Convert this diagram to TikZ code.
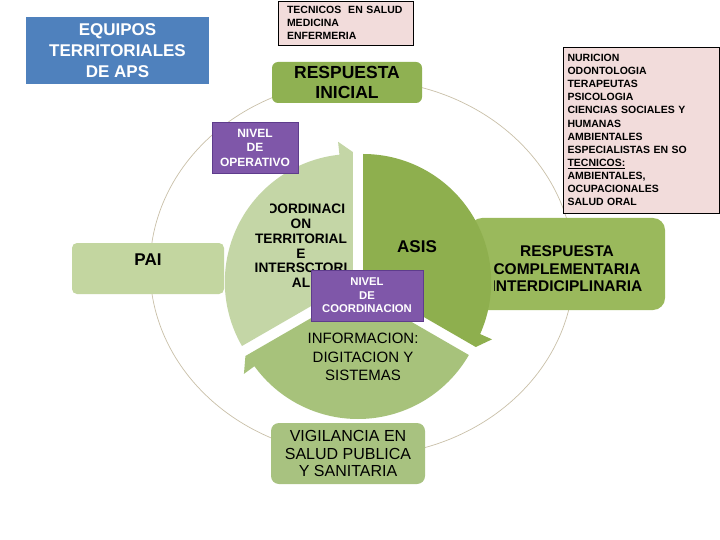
\documentclass[tikz,border=0pt]{standalone}
\usepackage{fontspec}
\setmainfont{Liberation Sans}
\definecolor{cblue}{HTML}{4F81BD}
\definecolor{cpink}{HTML}{F2DCDB}
\definecolor{cgreenA}{HTML}{8FB152}
\definecolor{cgreenB}{HTML}{9AB95C}
\definecolor{cgreenL}{HTML}{C3D6A0}
\definecolor{cgreenV}{HTML}{A8C280}
\definecolor{wlight}{HTML}{C4D6A6}
\definecolor{wdark}{HTML}{8EAF4E}
\definecolor{wmid}{HTML}{A7C27B}
\definecolor{ringc}{HTML}{C9C0A8}
\definecolor{cpurple}{HTML}{7F57A9}
\definecolor{cpurpleD}{HTML}{5E3C8C}
\begin{document}
\begin{tikzpicture}[x=1pt,y=-1pt,
  every node/.style={inner sep=0pt, outer sep=0pt},
  pinkbox/.style={fill=cpink, draw=black, line width=0.8pt, align=left, font=\fontsize{10.5}{13.1}\selectfont\bfseries},
  purplebox/.style={fill=cpurple, draw=cpurpleD, line width=0.8pt, text=white, align=center},
  greenbox/.style={align=center}]
\useasboundingbox (0,0) rectangle (720,540);
\fill[white] (0,0) rectangle (720,540);

% outer ring
\draw[ringc, line width=0.7pt] (362,268) ellipse [x radius=212pt, y radius=188pt];

% boxes behind the cycle
\node[fill=cgreenB, rounded corners=12pt, minimum width=195pt, minimum height=92pt] (respcomp) at (567.5,264) {};
\begin{scope}
  \clip (494,225) rectangle (670,305);
  \node[font=\fontsize{15.5}{17.5}\selectfont\bfseries, align=center] (respcomptext) at (567,269) {RESPUESTA\\COMPLEMENTARIA\\INTERDICIPLINARIA};
\end{scope}
\node[fill=cgreenL, rounded corners=5pt, minimum width=152pt, minimum height=51pt] (pai) at (148,268.5) {};
\node[font=\fontsize{17}{20}\selectfont\bfseries] (paitext) at (148,260) {PAI};

% segmented cycle
\begin{scope}[shift={(358,285)}, x=1pt, y=1pt]
  \fill[wlight, shift={(150:6pt)}] (0,0) -- (210:128pt) arc[start angle=210, end angle=96, radius=128pt] -- (96:141pt) -- (90:130pt) -- cycle;
  \fill[wdark, shift={(30:6pt)}] (0,0) -- (90:128pt) arc[start angle=90, end angle=-24, radius=128pt] -- (-24:141pt) -- (-30:130pt) -- cycle;
  \fill[wmid, shift={(-90:6pt)}] (0,0) -- (-30:128pt) arc[start angle=-30, end angle=-144, radius=128pt] -- (-144:141pt) -- (-150:130pt) -- cycle;
\end{scope}

% texts in the cycle
\node[font=\fontsize{17}{20}\selectfont\bfseries] (asis) at (417,247) {ASIS};
\begin{scope}
  \clip (270,195) -- (360,195) -- (360,300) -- (240,300) -- (240,217) -- (270,217) -- cycle;
  \node[font=\fontsize{13.7}{14.8}\selectfont\bfseries, align=center] (coord) at (301,246) {COORDINACI\\ON\\TERRITORIAL\\E\\INTERSCTORI\\AL};
\end{scope}
\node[font=\fontsize{15}{18.5}\selectfont, align=center] (info) at (363,357) {INFORMACION:\\DIGITACION Y\\SISTEMAS};

% purple level boxes
\node[purplebox, minimum width=86pt, minimum height=51pt, font=\fontsize{12}{14.5}\selectfont\bfseries] (nivop) at (255,147.5) {NIVEL\\DE\\OPERATIVO};
\node[purplebox, minimum width=112pt, minimum height=51pt, font=\fontsize{11.3}{13.5}\selectfont\bfseries] (nivco) at (367,295.5) {NIVEL\\DE\\COORDINACION};

% other boxes
\node[fill=cblue, minimum width=183pt, minimum height=67pt, text=white, font=\fontsize{17}{21}\selectfont\bfseries, align=center] (equipos) at (117.5,50.5) {EQUIPOS\\TERRITORIALES\\DE APS};
\node[pinkbox, minimum width=135pt, minimum height=44pt, text width=117pt, font=\fontsize{10.5}{13}\selectfont\bfseries] (tecnicos) at (345.5,23) {TECNICOS~ EN SALUD\\MEDICINA\\ENFERMERIA};
\node[fill=cgreenA, rounded corners=6pt, minimum width=150pt, minimum height=41pt, font=\fontsize{17.5}{20}\selectfont\bfseries, align=center] (respini) at (347,82.5) {RESPUESTA\\INICIAL};
\node[pinkbox, minimum width=156pt, minimum height=166pt, text width=147pt] (perfiles) at (641,130) {NURICION\\ODONTOLOGIA\\TERAPEUTAS\\PSICOLOGIA\\CIENCIAS SOCIALES Y\\HUMANAS\\AMBIENTALES\\ESPECIALISTAS EN SO\\\underline{TECNICOS:}\\AMBIENTALES,\\OCUPACIONALES\\SALUD ORAL};
\node[fill=cgreenV, rounded corners=8pt, minimum width=154pt, minimum height=61pt, font=\fontsize{16}{17.5}\selectfont, align=center] (vigil) at (348,453.5) {VIGILANCIA EN\\SALUD PUBLICA\\Y SANITARIA};
\end{tikzpicture}
\end{document}
